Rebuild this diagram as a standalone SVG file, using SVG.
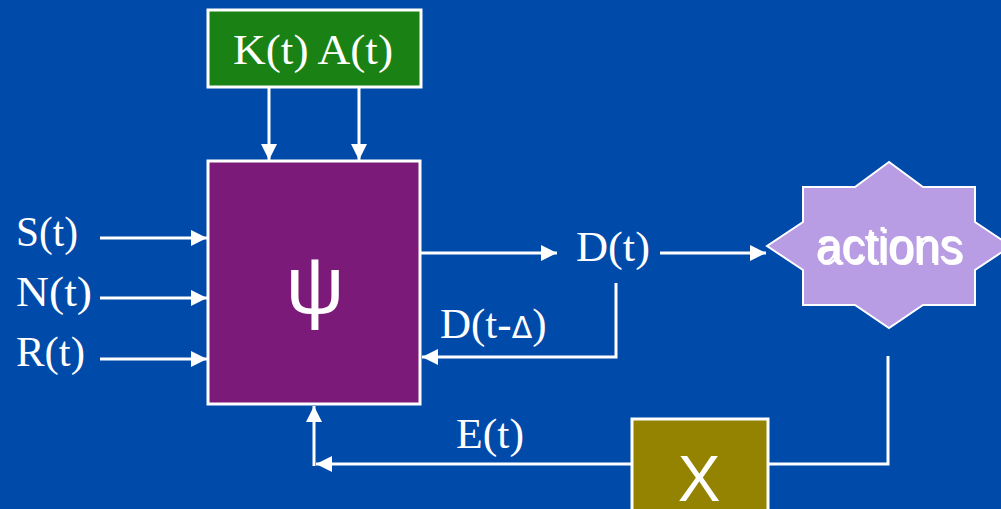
<svg xmlns="http://www.w3.org/2000/svg" width="1001" height="509" viewBox="0 0 1001 509">
<defs>
<style>
.lbl{font-family:"Liberation Serif","Times New Roman",serif;font-size:43px;fill:#ffffff}
.box{stroke:#ffffff;stroke-width:3}
.wire{stroke:#ffffff;stroke-width:3;fill:none}
.sans{font-family:"Liberation Sans",Arial,sans-serif;fill:#ffffff}
</style>
<marker id="ah" viewBox="0 0 16 16" refX="16" refY="8" markerWidth="16" markerHeight="16" markerUnits="userSpaceOnUse" orient="auto">
<path d="M0,0 L16,8 L0,16 Z" fill="#ffffff"/>
</marker>
</defs>
<rect width="1001" height="509" fill="#004AAA"/>

<g id="ka">
<rect class="box" x="208" y="10" width="213" height="77" fill="#1A8214"/>
<text class="lbl" x="233" y="64" textLength="160" lengthAdjust="spacingAndGlyphs">K(t) A(t)</text>
</g>

<g id="psi">
<rect class="box" x="208" y="161" width="212" height="243" fill="#7B1A78"/>
<text class="sans" x="315" y="313" font-size="82" text-anchor="middle">ψ</text>
</g>

<g id="inputs">
<text class="lbl" x="16" y="246" textLength="62" lengthAdjust="spacingAndGlyphs">S(t)</text>
<text class="lbl" x="16" y="306" textLength="76" lengthAdjust="spacingAndGlyphs">N(t)</text>
<text class="lbl" x="16" y="366" textLength="69" lengthAdjust="spacingAndGlyphs">R(t)</text>
</g>

<g id="dt">
<text class="lbl" x="576" y="261" textLength="74" lengthAdjust="spacingAndGlyphs">D(t)</text>
</g>

<g id="dtd">
<text class="lbl" x="440" y="338">D(t-<tspan font-family="'DejaVu Sans',sans-serif" font-size="30">Δ</tspan>)</text>
</g>

<g id="et">
<text class="lbl" x="456" y="448" textLength="68" lengthAdjust="spacingAndGlyphs">E(t)</text>
</g>

<g id="actions">
<polygon points="889,162 855,187 803,187 803,222 767,246 803,270 803,305 855,305 889,328 923,305 975,305 975,270 1011,246 975,222 975,187 923,187" fill="#B89CE4" stroke="#ffffff" stroke-width="2"/>
<text class="sans" x="891" y="265" font-size="50" text-anchor="middle" textLength="147" lengthAdjust="spacingAndGlyphs" fill="#1a1a1a">actions</text>
<text class="sans" x="889" y="263" font-size="50" text-anchor="middle" textLength="147" lengthAdjust="spacingAndGlyphs">actions</text>
</g>

<g id="x">
<rect class="box" x="632" y="419" width="136" height="100" fill="#948300"/>
<text class="sans" x="699" y="501" font-size="64" text-anchor="middle">X</text>
</g>

<g id="connectors">
<line class="wire" x1="269" y1="87" x2="269" y2="160" marker-end="url(#ah)"/>
<line class="wire" x1="359" y1="87" x2="359" y2="160" marker-end="url(#ah)"/>
<line class="wire" x1="100" y1="238" x2="207" y2="238" marker-end="url(#ah)"/>
<line class="wire" x1="100" y1="298" x2="207" y2="298" marker-end="url(#ah)"/>
<line class="wire" x1="100" y1="359" x2="207" y2="359" marker-end="url(#ah)"/>
<line class="wire" x1="421" y1="253" x2="557" y2="253" marker-end="url(#ah)"/>
<line class="wire" x1="660" y1="253" x2="766" y2="253" marker-end="url(#ah)"/>
<polyline class="wire" points="616,283 616,357 422,357" marker-end="url(#ah)"/>
<polyline class="wire" points="888,356 888,464 769,464"/>
<line class="wire" x1="631" y1="464" x2="316" y2="464" marker-end="url(#ah)"/>
<line class="wire" x1="314" y1="466" x2="314" y2="406" marker-end="url(#ah)"/>
</g>
</svg>
